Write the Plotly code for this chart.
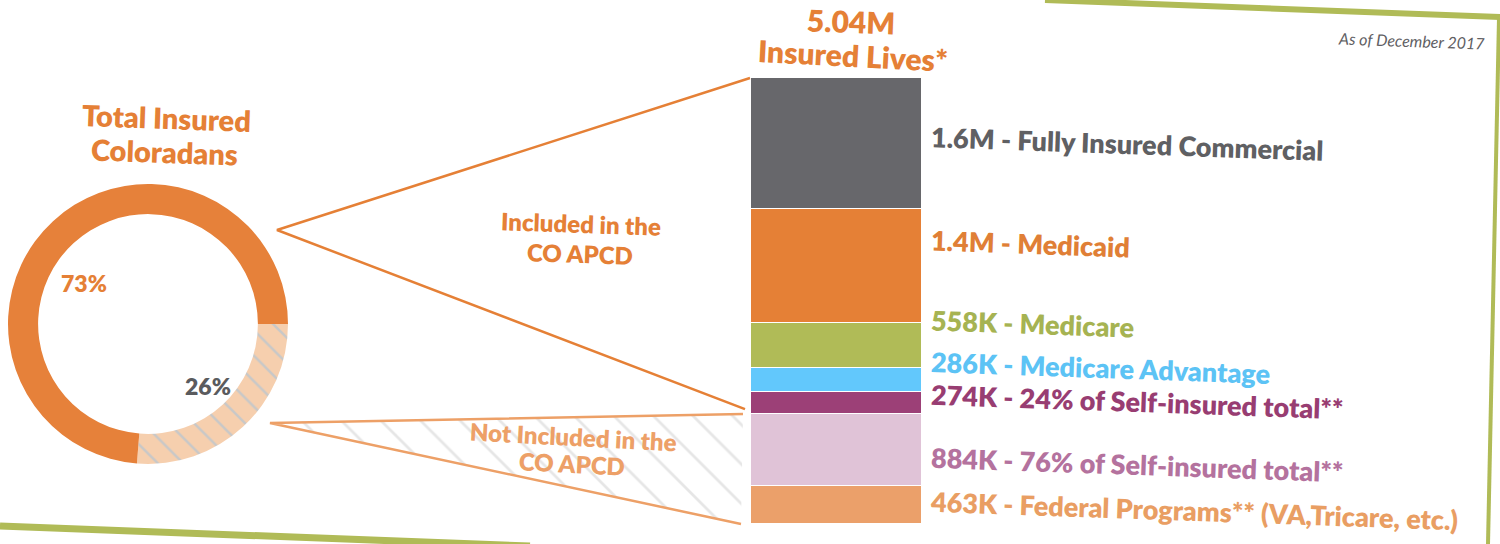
import plotly.graph_objects as go

W, H = 1500, 544

# ---------------- data ----------------
categories = ["Fully Insured Commercial", "Medicaid", "Medicare", "Medicare Advantage",
              "24% of Self-insured total**", "76% of Self-insured total**",
              "Federal Programs** (VA,Tricare, etc.)"]
values_k = [1600, 1400, 558, 286, 274, 884, 463]
value_labels = ["1.6M", "1.4M", "558K", "286K", "274K", "884K", "463K"]
in_apcd = [True, True, True, True, True, False, False]

donut_labels = ["Not Included in the CO APCD", "Included in the CO APCD"]
donut_values = [26, 73]
donut_text = ["26%", "73%"]

total_label = "5.04M"

# ---------------- styles ----------------
seg_colors = ["#67676b", "#e58036", "#b0bb57", "#62c8fc", "#9c4077", "#e0c3d7", "#eba06a"]
label_colors = ["#5f6063", "#e07f36", "#a6b352", "#5cc3f5", "#983d72", "#b4729e", "#e99e63"]
ORANGE = "#e58036"
LIGHT_ORANGE = "#eda067"
GREEN = "#b0bb57"
FONT = "Lato"
WEIGHT = 800

# layout geometry (pixels)
bar_left, bar_right = 751, 922
bar_top_px, bar_bot_px = 78, 524
total = sum(values_k)
K = (bar_bot_px - bar_top_px) / total          # px per thousand


def yv(px):
    """pixel row -> y data value on the bar axis"""
    return (bar_bot_px - px) / K


def pp(x, y):
    return x / W, 1 - y / H


fig = go.Figure()

# ---------------- stacked bar (bottom-up) ----------------
for i in reversed(range(len(categories))):
    fig.add_trace(go.Bar(
        x=[(bar_left + bar_right) / 2], y=[values_k[i]], width=bar_right - bar_left,
        marker=dict(color=seg_colors[i], line=dict(color="white", width=1)),
        name=categories[i], showlegend=False, hoverinfo="name+y"))

# cumulative bases (from the bottom)
bases = {}
acc = 0
for i in reversed(range(len(categories))):
    bases[i] = acc
    acc += values_k[i]
not_incl_total = sum(v for v, f in zip(values_k, in_apcd) if not f)

# ---------------- connector wedges ----------------
inc_vertex = (277, yv(230))
ninc_vertex = (270, yv(422))
gap = 5 / K
# Not included: hatched fill
fig.add_trace(go.Scatter(
    x=[ninc_vertex[0], bar_left - 8, bar_left - 10, ninc_vertex[0]],
    y=[ninc_vertex[1], not_incl_total, 0, ninc_vertex[1] - 2 / K],
    fill="toself", mode="none", fillcolor="rgba(0,0,0,0)",
    fillpattern=dict(shape="\\", fgcolor="#cdcdcd", bgcolor="white", size=28, solidity=0.1),
    showlegend=False, hoverinfo="skip"))
fig.add_trace(go.Scatter(
    x=[bar_left - 8, ninc_vertex[0], bar_left - 10],
    y=[not_incl_total, ninc_vertex[1] - 1 / K, 0],
    mode="lines", line=dict(color=LIGHT_ORANGE, width=2.5),
    showlegend=False, hoverinfo="skip"))
# Included: two lines
fig.add_trace(go.Scatter(
    x=[bar_left - 1, inc_vertex[0], bar_left - 6],
    y=[total, inc_vertex[1], not_incl_total + gap],
    mode="lines", line=dict(color=ORANGE, width=2.5),
    showlegend=False, hoverinfo="skip"))

# ---------------- donut ----------------
fig.add_trace(go.Pie(
    labels=donut_labels, values=donut_values, sort=False, direction="clockwise",
    rotation=90, hole=0.785, textinfo="none", showlegend=False,
    marker=dict(colors=["#f6cfae", "#e6813a"],
                line=dict(width=0),
                pattern=dict(shape=["\\", ""], fgcolor="#c8c8c8", bgcolor="#f6cfae",
                             size=18, solidity=0.14)),
    domain=dict(x=[8 / W, 288 / W], y=[1 - 468 / H, 1 - 180 / H])))

annotations = []


def txt(x, y, text, size, color, bold=True, angle=2, xanchor="center", italic=False):
    x, y = pp(x, y)
    annotations.append(dict(
        x=x, y=y, xref="paper", yref="paper",
        text=text, showarrow=False, xanchor=xanchor, yanchor="middle",
        textangle=angle,
        font=dict(family=FONT, size=size, color=color, weight=WEIGHT if bold else 400,
                  style="italic" if italic else "normal")))


# donut title + percentages
txt(166, 117, "Total Insured", 29, ORANGE)
txt(164, 151, "Coloradans", 29, ORANGE)
txt(84, 283, donut_text[1], 23, ORANGE, angle=0)
txt(208, 386, donut_text[0], 23, "#5a5b5e", angle=0)

# wedge labels
txt(581, 223, "Included in the", 24, ORANGE)
txt(580, 253, "CO APCD", 24, ORANGE)
txt(573, 436, "Not Included in the", 24, LIGHT_ORANGE, angle=3)
txt(572, 463, "CO APCD", 24, LIGHT_ORANGE, angle=3)

# header
txt(851, 21, total_label, 30, ORANGE)
txt(853, 55, "Insured Lives*", 30, ORANGE, angle=3)
txt(1487, 41, "As of December 2017", 16, "#5f6063", bold=False, xanchor="right", italic=True)

# bar labels (near each segment's centre, nudged apart)
label_shift = [0, -22, -22, -13, -1, 14, 5]
for i in range(len(categories)):
    yc = bases[i] + values_k[i] / 2
    annotations.append(dict(
        x=bar_right + 6, y=yc, xref="x", yref="y", yshift=-label_shift[i],
        text=f"{value_labels[i]} - {categories[i]}", showarrow=False,
        xanchor="left", yanchor="middle", textangle=2,
        font=dict(family=FONT, size=27, color=label_colors[i], weight=WEIGHT)))

# decorative slide frame (green)
shapes = [
    dict(type="line", xref="paper", yref="paper", x0=1045 / W, y0=1 - 0 / H, x1=1, y1=1 - 17 / H,
         line=dict(color=GREEN, width=6)),
    dict(type="line", xref="paper", yref="paper", x0=0, y0=1 - 526 / H, x1=530 / W, y1=1 - 546 / H,
         line=dict(color=GREEN, width=7)),
    dict(type="line", xref="paper", yref="paper", x0=1499 / W, y0=1 - 18 / H, x1=1488 / W, y1=0,
         line=dict(color=GREEN, width=4)),
]

fig.update_layout(
    width=W, height=H, margin=dict(l=0, r=0, t=0, b=0),
    paper_bgcolor="white", plot_bgcolor="white", barmode="stack", bargap=0,
    xaxis=dict(range=[0, W], visible=False, domain=[0, 1], fixedrange=True),
    yaxis=dict(range=[yv(H), yv(0)], visible=False, domain=[0, 1], fixedrange=True),
    annotations=annotations, shapes=shapes, showlegend=False,
)

fig.write_html("out.html", config={"displayModeBar": False},
               post_script="document.body.style.margin='0';")
